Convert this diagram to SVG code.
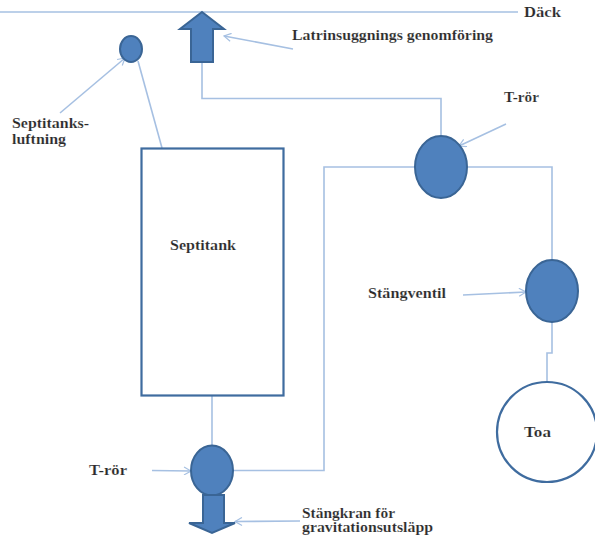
<svg xmlns="http://www.w3.org/2000/svg" width="595" height="537" viewBox="0 0 595 537">
<defs>
<marker id="a" markerWidth="9" markerHeight="9" refX="8" refY="4.500" orient="auto" markerUnits="userSpaceOnUse"><path d="M1 0.500L8 4.500L1 8.500" fill="none" stroke="#a6c0e2" stroke-width="1.2"/></marker>
</defs>
<style>
.c{fill:none;stroke:#a6c0e2;stroke-width:1.6}
.l{marker-end:url(#a)}
.n{fill:#4f81bd;stroke:#3a6595;stroke-width:2}
.o{fill:#fff;stroke:#3f6c9f;stroke-width:2.2}
text{font-family:"Liberation Serif","Times New Roman",serif;font-size:14px;font-weight:bold;fill:#2a2a2a;stroke:#fff;stroke-width:.15}
</style>
<rect width="595" height="537" fill="#fff"/>
<g id="connectors">
<path class="c" d="M0 12H518"/>
<path class="c" d="M202 62V98.500H441V135"/>
<path class="c" d="M138 61L162 148"/>
<path class="c" d="M212 396V446"/>
<path class="c" d="M233 470.500H324V167H415"/>
<path class="c" d="M467 167H552V261"/>
<path class="c" d="M552 322V353H547V385"/>
<path class="c l" d="M60 113L125 58"/>
<path class="c l" d="M293 49L224 36"/>
<path class="c l" d="M506 124L459 146"/>
<path class="c l" d="M463 295L526 292"/>
<path class="c l" d="M152 470.500L191 471"/>
<path class="c l" d="M300 521L235 521.500"/>
</g>
<g id="deck"><text x="524" y="17" textLength="37" lengthAdjust="spacingAndGlyphs">Däck</text></g>
<g id="luftning"><ellipse class="n" cx="131" cy="49" rx="11" ry="13"/><text x="12" y="128" textLength="77" lengthAdjust="spacingAndGlyphs">Septitanks-</text><text x="12" y="144" textLength="54" lengthAdjust="spacingAndGlyphs">luftning</text></g>
<g id="genomforing"><path class="n" d="M202 12L224 29H213V62H191V29H180Z"/><text x="292" y="40" textLength="201" lengthAdjust="spacingAndGlyphs">Latrinsuggnings genomföring</text></g>
<g id="septitank"><rect class="o" x="141.500" y="148.500" width="142" height="247"/><text x="170" y="250" textLength="66" lengthAdjust="spacingAndGlyphs">Septitank</text></g>
<g id="t-ror-top"><ellipse class="n" cx="441" cy="167" rx="26" ry="31"/><text x="504" y="102" textLength="35" lengthAdjust="spacingAndGlyphs">T-rör</text></g>
<g id="stangventil"><ellipse class="n" cx="552" cy="291" rx="26" ry="31"/><text x="368" y="298" textLength="78" lengthAdjust="spacingAndGlyphs">Stängventil</text></g>
<g id="toa"><circle class="o" cx="547" cy="432" r="50"/><text x="524" y="437" textLength="27" lengthAdjust="spacingAndGlyphs">Toa</text></g>
<g id="t-ror-bottom"><ellipse class="n" cx="212" cy="470.500" rx="21" ry="25"/><text x="89" y="475" textLength="38" lengthAdjust="spacingAndGlyphs">T-rör</text></g>
<g id="stangkran"><path class="n" d="M203 495H224V523H235L212 533L189 523H203Z"/><text x="302" y="518" textLength="93" lengthAdjust="spacingAndGlyphs">Stängkran för</text><text x="302" y="532" textLength="131" lengthAdjust="spacingAndGlyphs">gravitationsutsläpp</text></g>
</svg>
